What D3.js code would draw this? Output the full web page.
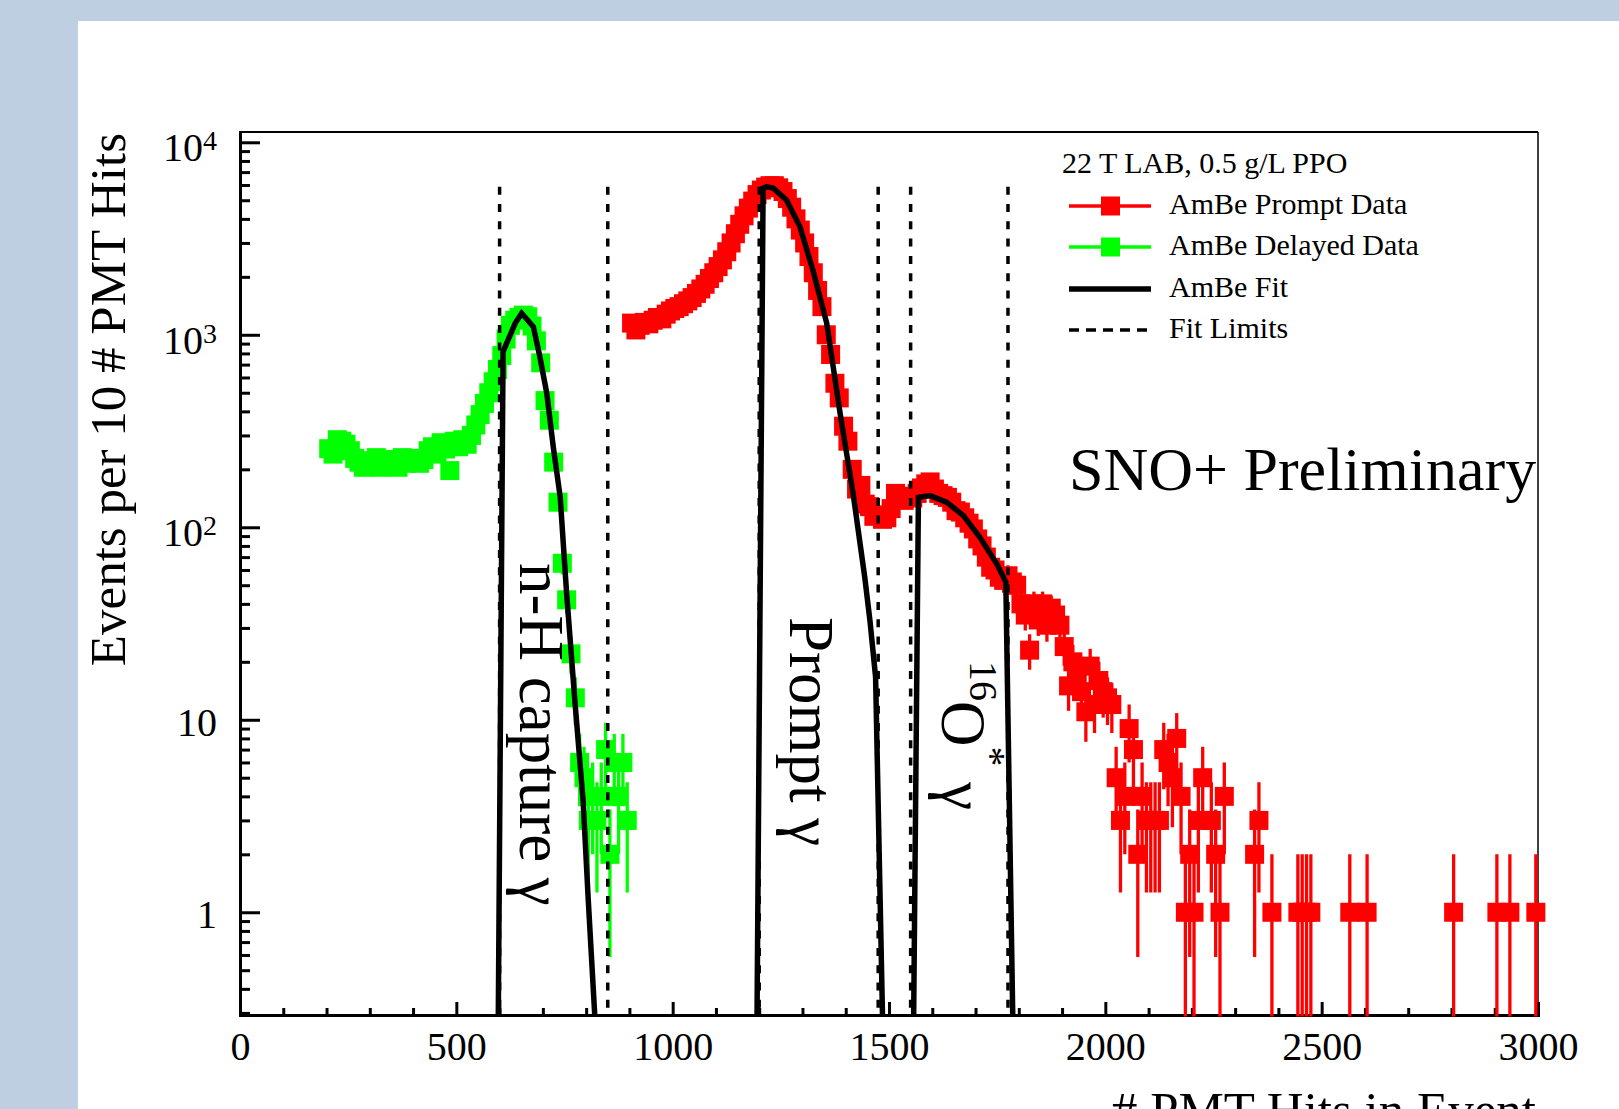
<!DOCTYPE html>
<html>
<head>
<meta charset="utf-8">
<script src="https://cdn.jsdelivr.net/npm/d3@7"></script>
<style>
body { margin: 0; background: #bdcfe0; }
svg { display: block; font-family: "Liberation Serif", "Times New Roman", serif; }
</style>
</head>
<body>
<script>

// histogram data, events per 10 PMT hits
var binWidth = 10;

var delayedStart = 200;
var delayedCounts = [
    256, 240, 285, 280, 270, 250, 228, 218, 205, 222,
    212, 230, 205, 225, 212, 222, 205, 230, 215, 228,
    220, 215, 225, 250, 262, 240, 275, 255, 197, 280,
    262, 285, 270, 300, 340, 385, 440, 500, 570, 660,
    780, 950, 1120, 1190, 1230, 1265, 1240, 1110, 930, 715,
    455, 360, 218, 135, 65, 42, 22, 13, 6, 5,
    3, 4, 3, 4, 7, 2, 6, 4, 6, 3
];

var promptStart = 900;
var promptCounts = [
    1150, 1060, 1120, 1160, 1140, 1190, 1230, 1210, 1280, 1330,
    1370, 1400, 1450, 1500, 1560, 1640, 1730, 1830, 1960, 2100,
    2260, 2450, 2700, 3000, 3350, 3750, 4150, 4550, 4950, 5350,
    5650, 5850, 5950, 5950, 5800, 5550, 5100, 4600, 4000, 3500,
    3000, 2550, 2100, 1700, 1400, 1000, 790, 560, 470, 335,
    280, 200, 158, 165, 132, 128, 114, 116, 110, 112,
    125, 150, 140, 138, 145, 142, 150, 160, 168, 172,
    158, 150, 146, 143, 135, 122, 120, 112, 105, 98,
    87, 80, 70, 62, 60, 55, 53, 56, 52, 50,
    40, 35, 23, 40, 33, 40, 31, 38, 35, 31,
    24, 15, 20, 17, 14, 11, 19, 12, 16, 14,
    13, 12, 5, 3, 4, 9, 7, 2, 4, 3,
    3, 3, 3, 7, 6, 5, 8, 4, 1, 2,
    1, 3, 5, 0, 3, 2, 1, 4, 0, 0,
    0, 0, 0, 0, 2, 3, 0, 0, 1, 0,
    0, 0, 0, 0, 1, 1, 1, 1, 0, 0,
    0, 0, 0, 0, 0, 0, 1, 0, 0, 0,
    1, 0, 0, 0, 0, 0, 0, 0, 0, 0,
    0, 0, 0, 0, 0, 0, 0, 0, 0, 0,
    1, 0, 0, 0, 0, 0, 0, 0, 0, 0,
    1, 0, 0, 1, 0, 0, 0, 0, 0, 1
];

// fit curves (sampled)
var nhFitX = [597, 608, 636, 651, 678, 693, 709, 724, 740, 755, 774, 793, 805, 820];
var nhFitY = [0.29, 817, 1147, 1293, 1102, 770, 497, 262, 144, 45, 12.5, 3.8, 1.15, 0.29];

var promptFitX = [1195, 1209, 1217, 1232, 1263, 1294, 1324, 1356, 1387, 1417, 1444, 1456, 1469, 1485];
var promptFitY = [0.29, 5770, 5880, 5790, 5020, 3650, 2170, 1150, 391, 150, 55, 32.7, 16.7, 0.29];

var oxyFitX = [1557, 1568, 1595, 1633, 1672, 1710, 1749, 1770, 1786];
var oxyFitY = [0.29, 143, 146, 135, 115, 88.7, 64.6, 52, 0.29];

var fitLimits = [600, 850, 1200, 1475, 1550, 1775];
var fitLimitTop = 5880;

var xTicks = [0, 500, 1000, 1500, 2000, 2500, 3000];
var yDecades = [1, 10, 100, 1000, 10000];
var yLabelBase = ['1', '10', '10', '10', '10'];
var yLabelExp = ['', '', '2', '3', '4'];

var legendHeader = '22 T LAB, 0.5 g/L PPO';
var legendLabels = ['AmBe Prompt Data', 'AmBe Delayed Data', 'AmBe Fit', 'Fit Limits'];

var width = 1619,
    height = 1109,
    frame = {left: 240, right: 1538, top: 132, bottom: 1015},
    red = '#ff0000',
    green = '#00ff00';

var x = d3.scaleLinear().domain([0, 3000]).range([frame.left, frame.right]);
var y = d3.scaleLog().domain([0.2926, 11310]).range([frame.bottom, frame.top]);

var svg = d3.select('body').append('svg')
    .attr('width', width)
    .attr('height', height);

svg.append('rect')
    .attr('x', 78).attr('y', 21)
    .attr('width', width - 78).attr('height', height - 21)
    .attr('fill', '#fff');

svg.append('clipPath').attr('id', 'plotClip')
    .append('rect')
    .attr('x', frame.left).attr('y', frame.top)
    .attr('width', frame.right - frame.left + 2)
    .attr('height', frame.bottom - frame.top + 1.5);

// ---- axes ----
var minorX = d3.range(0, 3001, 100).filter(function(v) { return v % 500 != 0; });
var minorY = y.ticks().filter(function(v) { return yDecades.indexOf(v) < 0; });

var gxMinor = svg.append('g')
    .attr('transform', 'translate(0,' + frame.bottom + ')')
    .call(d3.axisBottom(x).tickValues(minorX).tickSize(-7).tickSizeOuter(0).tickFormat(''));
gxMinor.select('.domain').remove();

var gx = svg.append('g')
    .attr('transform', 'translate(0,' + frame.bottom + ')')
    .call(d3.axisBottom(x).tickValues(xTicks).tickSize(-13).tickSizeOuter(0)
        .tickPadding(16.6).tickFormat(d3.format('d')));

var gyMinor = svg.append('g')
    .attr('transform', 'translate(' + frame.left + ',0)')
    .call(d3.axisLeft(y).tickValues(minorY).tickSize(-10).tickSizeOuter(0).tickFormat(''));
gyMinor.select('.domain').remove();

var gy = svg.append('g')
    .attr('transform', 'translate(' + frame.left + ',0)')
    .call(d3.axisLeft(y).tickValues(yDecades).tickSize(-20).tickSizeOuter(0).tickFormat(''));

svg.selectAll('.tick line').attr('stroke', '#000').attr('stroke-width', 3);
svg.selectAll('.domain').attr('stroke', '#000').attr('stroke-width', 3).attr('stroke-linecap', 'square');
gx.selectAll('text')
    .attr('font-family', 'Liberation Serif')
    .attr('font-size', 40)
    .attr('fill', '#000');

svg.append('line')
    .attr('x1', frame.left).attr('x2', frame.right)
    .attr('y1', frame.top).attr('y2', frame.top)
    .attr('stroke', '#000').attr('stroke-width', 2);
svg.append('line')
    .attr('x1', frame.right).attr('x2', frame.right)
    .attr('y1', frame.top).attr('y2', frame.bottom)
    .attr('stroke', '#000').attr('stroke-width', 1.5);

// y labels with exponents
var yLab = svg.append('g').selectAll('text')
    .data(yDecades)
    .enter()
    .append('text')
    .attr('x', 217)
    .attr('y', function(d, i) { return y(d) + (yLabelExp[i] ? 19 : 16); })
    .attr('text-anchor', 'end')
    .attr('font-size', 40);
yLab.append('tspan').text(function(d, i) { return yLabelBase[i]; });
yLab.filter(function(d, i) { return yLabelExp[i]; })
    .append('tspan')
    .attr('font-size', 28)
    .attr('dy', -11)
    .text(function(d) { return yLabelExp[yDecades.indexOf(d)]; });

// axis titles
svg.append('text')
    .attr('x', 1536).attr('y', 1127)
    .attr('text-anchor', 'end')
    .attr('font-size', 51)
    .text('# PMT Hits in Event');

svg.append('text')
    .attr('transform', 'translate(125,133) rotate(-90)')
    .attr('text-anchor', 'end')
    .attr('font-size', 51)
    .text('Events per 10 # PMT Hits');

// ---- histograms ----
function toPoints(start, counts) {
    var pts = [];
    counts.forEach(function(n, i) {
        if (n > 0) pts.push({x: start + binWidth * (i + 0.5), n: n});
    });
    return pts;
}

function drawHist(pts, color) {
    var g = svg.append('g');
    g.append('g')
        .attr('clip-path', 'url(#plotClip)')
        .selectAll('line')
        .data(pts)
        .enter()
        .append('line')
        .attr('x1', function(d) { return x(d.x); })
        .attr('x2', function(d) { return x(d.x); })
        .attr('y1', function(d) { return y(d.n + Math.sqrt(d.n)); })
        .attr('y2', function(d) { return y(Math.max(d.n - Math.sqrt(d.n), 0.01)); })
        .attr('stroke', color)
        .attr('stroke-width', 3.3);
    g.append('g')
        .selectAll('rect')
        .data(pts)
        .enter()
        .append('rect')
        .attr('x', function(d) { return x(d.x) - 9.5; })
        .attr('y', function(d) { return y(d.n) - 9.5; })
        .attr('width', 19)
        .attr('height', 19)
        .attr('fill', color);
}

drawHist(toPoints(delayedStart, delayedCounts), green);
drawHist(toPoints(promptStart, promptCounts), red);

// ---- fits ----
var fitLine = d3.line()
    .x(function(d) { return x(d[0]); })
    .y(function(d) { return y(d[1]); });

var fits = svg.append('g').attr('clip-path', 'url(#plotClip)');
[[nhFitX, nhFitY], [promptFitX, promptFitY], [oxyFitX, oxyFitY]].forEach(function(f) {
    fits.append('path')
        .attr('d', fitLine(d3.zip(f[0], f[1])))
        .attr('fill', 'none')
        .attr('stroke', '#000')
        .attr('stroke-width', 5.5)
        .attr('stroke-linejoin', 'miter');
});

fits.selectAll('.limit')
    .data(fitLimits)
    .enter()
    .append('line')
    .attr('class', 'limit')
    .attr('x1', function(d) { return x(d); })
    .attr('x2', function(d) { return x(d); })
    .attr('y1', y(fitLimitTop))
    .attr('y2', frame.bottom)
    .attr('stroke', '#000')
    .attr('stroke-width', 3.5)
    .attr('stroke-dasharray', '8,9.3');

// ---- annotations ----
svg.append('text')
    .attr('transform', 'translate(520,563) rotate(90)')
    .attr('font-size', 63)
    .text('n-H capture \u03b3');

svg.append('text')
    .attr('transform', 'translate(790,617) rotate(90)')
    .attr('font-size', 63)
    .text('Prompt \u03b3');

var oxy = svg.append('text')
    .attr('transform', 'translate(942,661) rotate(90)')
    .attr('font-size', 63);
oxy.append('tspan').attr('font-size', 40).attr('dy', -28).text('16');
oxy.append('tspan').attr('dy', 28).text('O');
oxy.append('tspan').attr('font-size', 40).attr('dy', -36).text('*');
oxy.append('tspan').attr('dy', 36).text(' \u03b3');

svg.append('text')
    .attr('x', 1069).attr('y', 490)
    .attr('font-size', 62)
    .text('SNO+ Preliminary');

// ---- legend ----
var legend = svg.append('g');
legend.append('text')
    .attr('x', 1062).attr('y', 173)
    .attr('font-size', 30)
    .text(legendHeader);

var rowY = [214, 255, 297, 338];
legendLabels.forEach(function(label, i) {
    var ly = rowY[i] - 8;
    legend.append('text')
        .attr('x', 1169).attr('y', rowY[i])
        .attr('font-size', 30)
        .text(label);
    var ln = legend.append('line')
        .attr('x1', 1069).attr('x2', 1151)
        .attr('y1', ly).attr('y2', ly);
    if (i < 2) {
        var c = i == 0 ? red : green;
        ln.attr('stroke', c).attr('stroke-width', 3.3);
        legend.append('rect')
            .attr('x', 1101).attr('y', ly - 9.5)
            .attr('width', 19).attr('height', 19)
            .attr('fill', c);
    } else if (i == 2) {
        ln.attr('stroke', '#000').attr('stroke-width', 5.5);
    } else {
        ln.attr('stroke', '#000').attr('stroke-width', 3.5).attr('stroke-dasharray', '10,7');
    }
});

</script>
</body>
</html>
